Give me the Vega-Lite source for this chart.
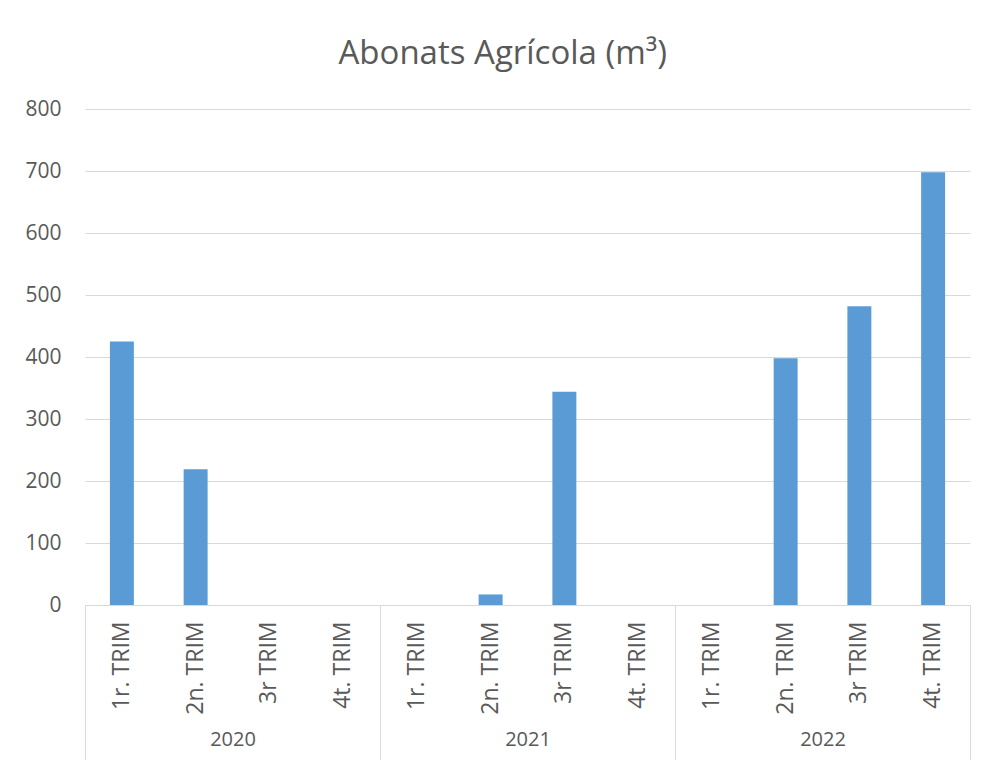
{
  "$schema": "https://vega.github.io/schema/vega-lite/v6.json",
  "width": 885,
  "height": 496,
  "autosize": "none",
  "padding": {"left": 85, "top": 109, "right": 18, "bottom": 155},
  "background": "white",
  "title": {
    "text": "Abonats Agrícola (m³)",
    "fontSize": 33,
    "font": "Open Sans",
    "fontWeight": "normal",
    "color": "#595959",
    "frame": "bounds",
    "anchor": "middle",
    "dx": 5,
    "offset": 27
  },
  "config": {
    "view": {"stroke": null},
    "font": "Open Sans"
  },
  "data": {
    "values": [
      {"key": "2020|1r. TRIM", "year": "2020", "quarter": "1r. TRIM", "value": 425},
      {"key": "2020|2n. TRIM", "year": "2020", "quarter": "2n. TRIM", "value": 219},
      {"key": "2020|3r TRIM", "year": "2020", "quarter": "3r TRIM", "value": 0},
      {"key": "2020|4t. TRIM", "year": "2020", "quarter": "4t. TRIM", "value": 0},
      {"key": "2021|1r. TRIM", "year": "2021", "quarter": "1r. TRIM", "value": 0},
      {"key": "2021|2n. TRIM", "year": "2021", "quarter": "2n. TRIM", "value": 17},
      {"key": "2021|3r TRIM", "year": "2021", "quarter": "3r TRIM", "value": 344},
      {"key": "2021|4t. TRIM", "year": "2021", "quarter": "4t. TRIM", "value": 0},
      {"key": "2022|1r. TRIM", "year": "2022", "quarter": "1r. TRIM", "value": 0},
      {"key": "2022|2n. TRIM", "year": "2022", "quarter": "2n. TRIM", "value": 398},
      {"key": "2022|3r TRIM", "year": "2022", "quarter": "3r TRIM", "value": 482},
      {"key": "2022|4t. TRIM", "year": "2022", "quarter": "4t. TRIM", "value": 698}
    ]
  },
  "layer": [
    {
      "mark": {"type": "bar", "color": "#5b9bd5"},
      "encoding": {
        "x": {
          "field": "key",
          "type": "nominal",
          "sort": null,
          "scale": {"paddingInner": 0.675, "paddingOuter": 0.3375},
          "axis": {
            "title": null,
            "labelAngle": -90,
            "labelExpr": "split(datum.label, '|')[1]",
            "ticks": false,
            "domainColor": "#d9d9d9",
            "labelFontSize": 23,
            "labelFont": "Open Sans",
            "labelColor": "#595959",
            "labelPadding": 16,
            "labelLimit": 300
          }
        },
        "y": {
          "field": "value",
          "type": "quantitative",
          "scale": {"domain": [0, 800]},
          "axis": {
            "title": null,
            "values": [0, 100, 200, 300, 400, 500, 600, 700, 800],
            "domain": false,
            "ticks": false,
            "gridColor": "#d9d9d9",
            "labelFontSize": 21,
            "labelFont": "Open Sans",
            "labelColor": "#595959",
            "labelPadding": 24
          }
        }
      }
    },
    {
      "mark": {"type": "tick", "opacity": 0},
      "encoding": {
        "x": {
          "field": "year",
          "type": "nominal",
          "scale": {"paddingInner": 0, "paddingOuter": 0},
          "axis": {
            "title": null,
            "orient": "bottom",
            "domain": false,
            "tickBand": "extent",
            "tickSize": 155,
            "tickColor": "#d9d9d9",
            "labelAngle": 0,
            "labelFontSize": 20,
            "labelFont": "Open Sans",
            "labelColor": "#595959",
            "labelPadding": -31,
            "labelBaseline": "top"
          }
        },
        "y": {"field": "value", "type": "quantitative"}
      }
    }
  ],
  "resolve": {"scale": {"x": "independent"}}
}
